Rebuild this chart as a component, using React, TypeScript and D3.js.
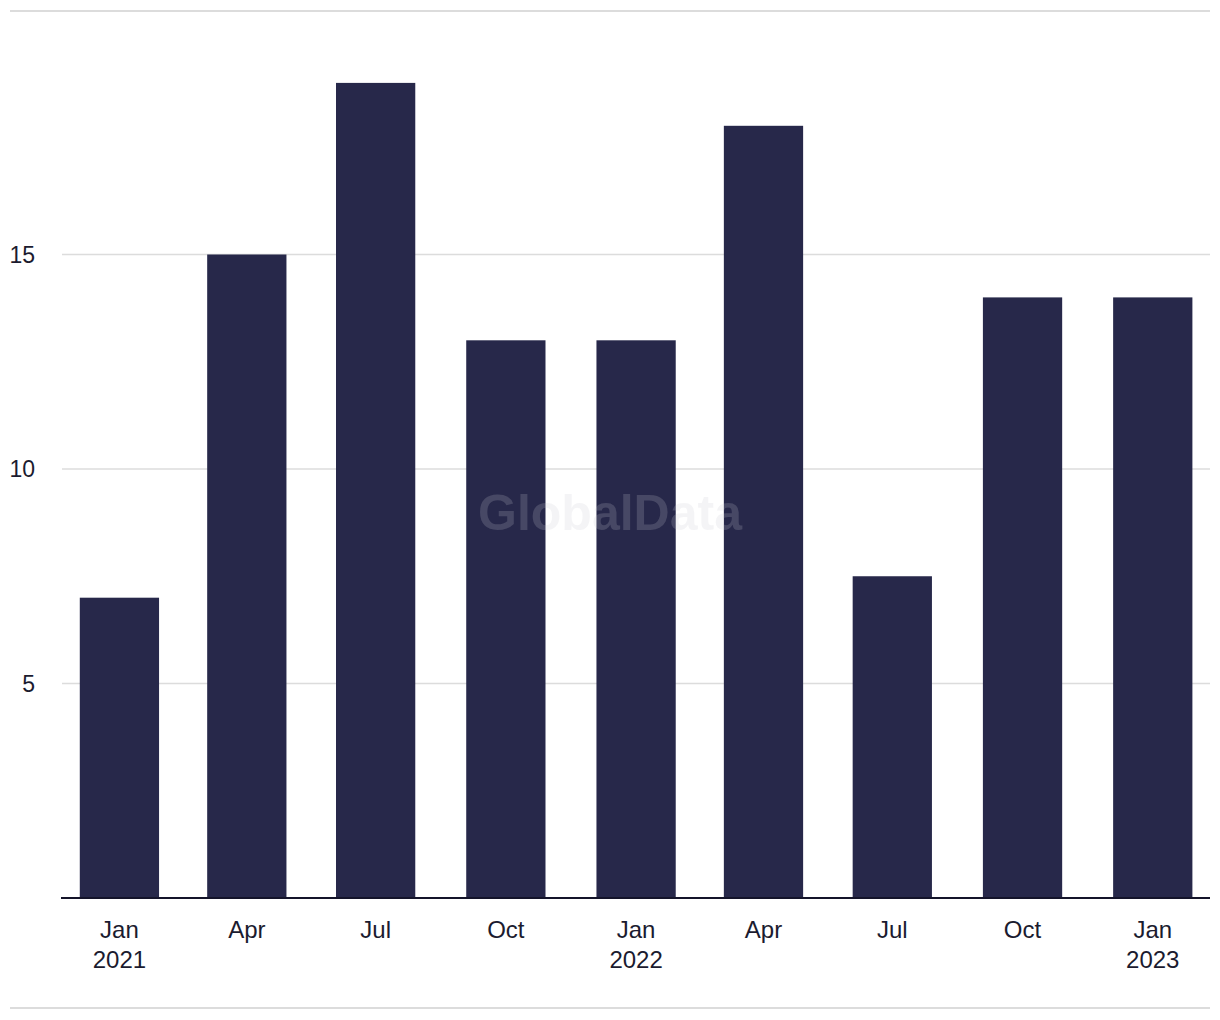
import React from "react";
import * as d3 from "d3";

const dates = ["2021-01-01","2021-04-01","2021-07-01","2021-10-01","2022-01-01","2022-04-01","2022-07-01","2022-10-01","2023-01-01"];
const values = [7, 15, 19, 13, 13, 18, 7.5, 14, 14];
const monthLabels = ["Jan","Apr","Jul","Oct","Jan","Apr","Jul","Oct","Jan"];
const yearLabels = ["2021","","","","2022","","","","2023"];
const yTicks = [5, 10, 15];

const W = 1220, H = 1020;
const FONT = "'Liberation Sans', Arial, sans-serif";

export default function App() {
  const parse = d3.utcParse("%Y-%m-%d");
  const ds = dates.map((d) => parse(d) as Date);
  const x = d3.scaleUtc()
    .domain([parse("2020-11-22") as Date, parse("2023-02-11") as Date])
    .range([62.8, 1210.8]);
  const y = d3.scaleLinear().domain([0, 20]).range([898, 40]);
  const bw = x(d3.utcDay.offset(ds[0], 56)) - x(ds[0]);
  return (
    <svg width={W} height={H} style={{ position: "absolute", left: 0, top: 0, background: "#fff" }} fontFamily={FONT}>
      <line x1={10} x2={1210} y1={11} y2={11} stroke="#dcdcdc" strokeWidth={2} />
      <line x1={10} x2={1210} y1={1008} y2={1008} stroke="#dcdcdc" strokeWidth={2} />
      {yTicks.map((t) => (
        <g key={t}>
          <line x1={62} x2={1210} y1={y(t)} y2={y(t)} stroke="#dcdcdc" strokeWidth={1.5} />
          <text x={35} y={y(t)} dy="0.35em" textAnchor="end" fontSize={23} fill="#1b1b2f">{t}</text>
        </g>
      ))}
      {ds.map((d, i) => (
        <rect key={i} x={x(d) - bw / 2} width={bw} y={y(values[i])} height={y(0) - y(values[i])} fill="#27284a" />
      ))}
      <line x1={61} x2={1210} y1={y(0)} y2={y(0)} stroke="#14142a" strokeWidth={2} />
      {ds.map((d, i) => (
        <g key={"l" + i}>
          <text x={x(d)} y={938} textAnchor="middle" fontSize={24} fill="#1b1b2f">{monthLabels[i]}</text>
          {yearLabels[i] && (
            <text x={x(d)} y={968} textAnchor="middle" fontSize={24} fill="#1b1b2f">{yearLabels[i]}</text>
          )}
        </g>
      ))}
      <text x={610} y={512} dy="0.35em" textAnchor="middle" fontSize={50} fontWeight="bold" fill="#c8c8d2" fillOpacity={0.2}>GlobalData</text>
    </svg>
  );
}
